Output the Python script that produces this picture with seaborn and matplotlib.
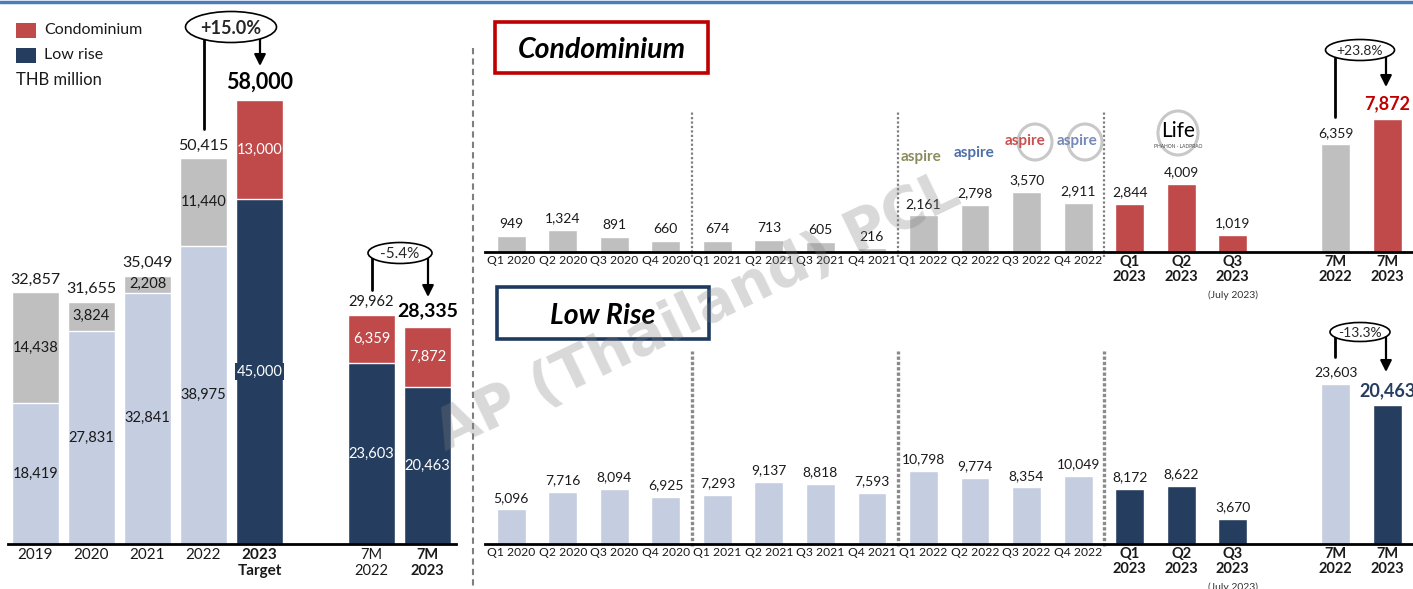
import pandas as pd
import matplotlib.pyplot as plt
import seaborn as sns
from matplotlib.patches import Rectangle, Ellipse, FancyArrowPatch
from matplotlib.lines import Line2D

# ---------------- data ----------------
years = ['2019', '2020', '2021', '2022', '2023\nTarget', '7M\n2022', '7M\n2023']
year_lowrise = [18419, 27831, 32841, 38975, 45000, 23603, 20463]
year_condo = [14438, 3824, 2208, 11440, 13000, 6359, 7872]

quarters = ['Q1 2020', 'Q2 2020', 'Q3 2020', 'Q4 2020',
            'Q1 2021', 'Q2 2021', 'Q3 2021', 'Q4 2021',
            'Q1 2022', 'Q2 2022', 'Q3 2022', 'Q4 2022',
            'Q1\n2023', 'Q2\n2023', 'Q3\n2023', '7M\n2022', '7M\n2023']
q_condo = [949, 1324, 891, 660, 674, 713, 605, 216,
           2161, 2798, 3570, 2911, 2844, 4009, 1019, 6359, 7872]
q_lowrise = [5096, 7716, 8094, 6925, 7293, 9137, 8818, 7593,
             10798, 9774, 8354, 10049, 8172, 8622, 3670, 23603, 20463]

growth_year = '+15.0%'
growth_7m = '-5.4%'
growth_condo = '+23.8%'
growth_lowrise = '-13.3%'

# ---------------- style ----------------
RED = '#C0494A'
NAVY = '#253D5E'
LIGHT = '#C4CEE0'
GRAY = '#BFBFBF'
INK = '#1a1a1a'

sns.set_theme(style='white')
plt.rcParams['font.family'] = ['Lato', 'DejaVu Sans']

W, H = 1413, 589
fig = plt.figure(figsize=(W / 100, H / 100), dpi=100)


def fx(x):
    return x / W


def fy(y):
    return 1 - y / H


def px_axes(x0, y0, x1, y1):
    ax = fig.add_axes([fx(x0), fy(y1), (x1 - x0) / W, (y1 - y0) / H])
    ax.set_facecolor('none')
    return ax


def style_axis(ax, pad):
    for s in ['top', 'right', 'left']:
        ax.spines[s].set_visible(False)
    ax.spines['bottom'].set_linewidth(2)
    ax.spines['bottom'].set_color('black')
    ax.set_yticks([])
    ax.set_xlabel('')
    ax.set_ylabel('')
    ax.tick_params(axis='x', length=0, pad=pad, colors=INK)


def bars(ax, pos, vals, labels, colors, width):
    df = pd.DataFrame({'pos': pos, 'val': vals, 'lab': labels})
    sns.barplot(data=df, x='pos', y='val', hue='lab',
                palette=dict(zip(labels, colors)), dodge=False,
                native_scale=True, width=width, saturation=1,
                errorbar=None, legend=False, orient='x', ax=ax)


def label_top(ax, x, v, dy, **kw):
    ax.annotate(f'{v:,}', (x, v), xytext=(0, dy), textcoords='offset points',
                ha='center', va='baseline', **kw)


def growth(cx, cy, w, h, text, xl, yl, xr, yr, size, weight='normal'):
    fig.add_artist(Line2D([fx(xl), fx(xl)], [fy(cy), fy(yl)],
                          transform=fig.transFigure, color='black', lw=2))
    fig.add_artist(FancyArrowPatch((fx(xr), fy(cy)), (fx(xr), fy(yr)),
                                   transform=fig.transFigure, arrowstyle='-|>',
                                   mutation_scale=17, lw=1.6, color='black',
                                   shrinkA=0, shrinkB=0))
    fig.add_artist(Ellipse((fx(cx), fy(cy)), w / W, h / H, transform=fig.transFigure,
                           fc='white', ec='black', lw=1.2, zorder=5))
    fig.text(fx(cx), fy(cy), text, ha='center', va='center_baseline',
             fontsize=size, fontweight=weight, zorder=6)


def title_box(x0, y0, x1, y1, text, ec):
    fig.add_artist(Rectangle((fx(x0), fy(y1)), (x1 - x0) / W, (y1 - y0) / H,
                             transform=fig.transFigure, fc='white', ec=ec, lw=2.6))
    fig.text(fx((x0 + x1) / 2), fy((y0 + y1) / 2), text, ha='center',
             va='center_baseline', fontsize=20.5, fontweight='bold',
             fontstyle='italic', color='black')


# ---------------- left: yearly stacked ----------------
axL = px_axes(7.5, 8, 455.5, 544)
pos_left = [0, 1, 2, 3, 4, 6, 7]
strong_left = [False] * 4 + [True] * 3
totals = [lo + co for lo, co in zip(year_lowrise, year_condo)]

bars(axL, pos_left, totals, years, [RED if s else GRAY for s in strong_left], 0.84)
bars(axL, pos_left, year_lowrise, years, [NAVY if s else LIGHT for s in strong_left], 0.84)
axL.set_xlim(-0.5, 7.5)
axL.set_ylim(0, 70000)
style_axis(axL, 3)
axL.set_xticks(pos_left, years)
for lbl, y in zip(axL.get_xticklabels(), years):
    lbl.set_fontweight('bold' if y in ('2023\nTarget', '7M\n2023') else 'normal')
    lbl.set_fontsize(10.5 if y.startswith('7M') else 11)
    lbl.set_linespacing(1.15)

for x, lo, co, tot, s, y in zip(pos_left, year_lowrise, year_condo, totals, strong_left, years):
    c = 'white' if s else INK
    box = dict(boxstyle='square,pad=0.12', fc=NAVY, ec='none') if y == '2023\nTarget' else None
    axL.text(x, lo / 2, f'{lo:,}', ha='center', va='center', color=c, fontsize=10.5, bbox=box)
    axL.text(x, lo + co / 2, f'{co:,}', ha='center', va='center', color=c, fontsize=10.5)
    if y == '2023\nTarget':
        label_top(axL, x, tot, 8, fontsize=15.5, fontweight='bold', color='black')
    elif y == '7M\n2023':
        label_top(axL, x, tot, 8, fontsize=14, fontweight='bold', color='black')
    elif y == '7M\n2022':
        label_top(axL, x, tot, 6, fontsize=10.5, color=INK)
    else:
        label_top(axL, x, tot, 6, fontsize=11.5, color=INK)

# legend
fig.add_artist(Rectangle((fx(16), fy(38)), 20 / W, 15 / H, transform=fig.transFigure, fc=RED, ec='none'))
fig.add_artist(Rectangle((fx(16), fy(63)), 20 / W, 15 / H, transform=fig.transFigure, fc=NAVY, ec='none'))
fig.text(fx(44), fy(30), 'Condominium', ha='left', va='center', fontsize=11.5, color=INK)
fig.text(fx(44), fy(55), 'Low rise', ha='left', va='center', fontsize=11.5, color=INK)
fig.text(fx(16), fy(80), 'THB million', ha='left', va='center', fontsize=12, color=INK)

growth(231, 27, 91, 31, growth_year, 204, 129, 260, 66, 13, 'bold')
growth(400, 253, 64, 21, growth_7m, 372, 290, 428, 297, 11)

# ---------------- right: quarterly panels ----------------
pos_q = list(range(15)) + [16, 17]
strong_q = [False] * 12 + [True] * 3 + [False, True]
bold_q = [False] * 12 + [True] * 5

axT = px_axes(485, 15, 1413, 252)
bars(axT, pos_q, q_condo, quarters, [RED if s else GRAY for s in strong_q], 0.56)
axT.set_xlim(-0.51, 17.5)
axT.set_ylim(0, 14000)

axB = px_axes(485, 307, 1413, 544)
bars(axB, pos_q, q_lowrise, quarters, [NAVY if s else LIGHT for s in strong_q], 0.56)
axB.set_xlim(-0.51, 17.5)
axB.set_ylim(0, 35000)

for ax, vals, top_color, sep_top, sep_style in [
        (axT, q_condo, '#C00000', 8300, dict(ls=(0, (1, 1)), lw=1.6, color='#7f7f7f')),
        (axB, q_lowrise, NAVY, 28500, dict(ls=(0, (1, 0.6)), lw=2.4, color='#8a8a8a'))]:
    style_axis(ax, 2)
    ax.set_xticks(pos_q, quarters)
    for lbl, b in zip(ax.get_xticklabels(), bold_q):
        lbl.set_fontweight('bold' if b else 'normal')
        lbl.set_fontsize(10.5 if b else 8.7)
        lbl.set_linespacing(1.1)
    for xs in (3.5, 7.5, 11.5):
        ax.plot([xs, xs], [-300, sep_top], clip_on=False, **sep_style)
    for i, (x, v) in enumerate(zip(pos_q, vals)):
        if i == len(vals) - 1:
            label_top(ax, x, v, 6.5, fontsize=13, fontweight='bold', color=top_color)
        else:
            label_top(ax, x, v, 5.5, fontsize=10, color=INK)
    ax.annotate('(July 2023)', (14, 0), xytext=(0, -31), textcoords='offset points',
                ha='center', va='center', fontsize=7.5, color='#333333')

title_box(495, 22, 708, 73, 'Condominium', '#C00000')
title_box(497, 287, 709, 339, 'Low Rise', '#1F3A5F')

growth(1360, 50, 69, 21, growth_condo, 1335, 117, 1386, 87, 10)
growth(1360, 332, 60, 19, growth_lowrise, 1335, 357, 1386, 372, 10)

# project logos above the 2022/2023 condo launches
for txt, x, y, col in [('aspire', 921, 157, '#8C8C5E'), ('aspire', 974, 153, '#4E6FA8'),
                       ('aspire', 1025, 141, '#C9514F'), ('aspire', 1077, 141, '#7489B8')]:
    fig.text(fx(x), fy(y), txt, ha='center', va='center', fontsize=11,
             fontweight='bold', color=col)
for x, y, w, h in [(1035, 142, 34, 36), (1085, 142, 34, 36), (1178, 133, 40, 44)]:
    fig.add_artist(Ellipse((fx(x), fy(y)), w / W, h / H, transform=fig.transFigure,
                           fc='none', ec='#c8c8c8', lw=2.2, zorder=0.5))
fig.text(fx(1178), fy(131), 'Life', ha='center', va='center', fontsize=15, color='black')
fig.text(fx(1178), fy(147), 'PHAHON - LADPRAO', ha='center', va='center', fontsize=3.5, color='#444444')

# frame decorations
fig.add_artist(Line2D([0, 1], [fy(1.5), fy(1.5)], transform=fig.transFigure, color='#4A7EBB', lw=2.5))
fig.add_artist(Line2D([fx(473), fx(473)], [fy(48), fy(589)], transform=fig.transFigure,
                      color='#7f7f7f', lw=1.5, ls=(0, (3, 2))))

# watermark
fig.text(fx(698), fy(313), 'AP (Thailand) PCL', ha='center', va='center', rotation=25.7,
         rotation_mode='anchor', fontsize=41, fontweight='bold', family='DejaVu Sans',
         color='#808080', alpha=0.3, zorder=10)

fig.savefig('out.png', dpi=100)
